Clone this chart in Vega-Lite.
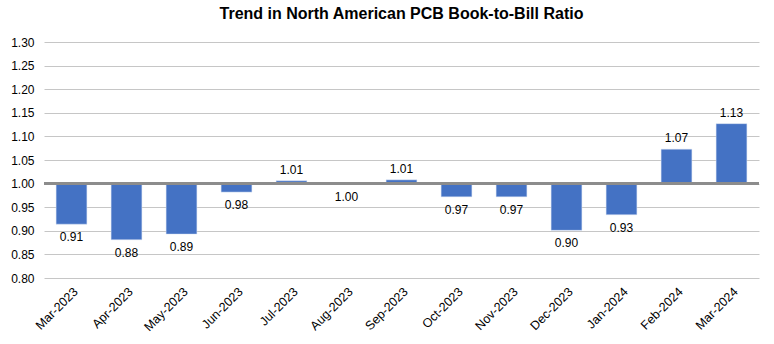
{
  "$schema": "https://vega.github.io/schema/vega-lite/v6.json",
  "width": 715,
  "height": 236,
  "autosize": "none",
  "padding": {"left": 44, "top": 42, "right": 15, "bottom": 66},
  "background": "white",
  "title": {
    "text": "Trend in North American PCB Book-to-Bill Ratio",
    "font": "Liberation Sans",
    "fontSize": 16,
    "fontWeight": "bold",
    "color": "black",
    "anchor": "middle",
    "offset": 14
  },
  "config": {
    "view": {"stroke": null},
    "font": "Liberation Sans",
    "axisY": {
      "tickCount": 20,
      "labelOverlap": false,
      "labelFontSize": 12,
      "labelColor": "black",
      "labelFont": "Liberation Sans",
      "ticks": false,
      "domain": false,
      "gridColor": "#c6c6c6",
      "gridWidth": 1,
      "labelPadding": 10
    }
  },
  "data": {
    "values": [
      {"month": "Mar-2023", "ratio": 0.914},
      {"month": "Apr-2023", "ratio": 0.881},
      {"month": "May-2023", "ratio": 0.893},
      {"month": "Jun-2023", "ratio": 0.982},
      {"month": "Jul-2023", "ratio": 1.006},
      {"month": "Aug-2023", "ratio": 1.0},
      {"month": "Sep-2023", "ratio": 1.008},
      {"month": "Oct-2023", "ratio": 0.972},
      {"month": "Nov-2023", "ratio": 0.972},
      {"month": "Dec-2023", "ratio": 0.901},
      {"month": "Jan-2024", "ratio": 0.934},
      {"month": "Feb-2024", "ratio": 1.073},
      {"month": "Mar-2024", "ratio": 1.127}
    ]
  },
  "encoding": {
    "x": {
      "field": "month",
      "type": "nominal",
      "sort": null,
      "scale": {"paddingInner": 0.44, "paddingOuter": 0.22},
      "axis": {
        "title": null,
        "labelAngle": -45,
        "labelFontSize": 12.5,
        "labelColor": "black",
        "labelFont": "Liberation Sans",
        "ticks": false,
        "domain": false,
        "labelPadding": 7
      }
    }
  },
  "layer": [
    {
      "mark": {"type": "bar", "color": "#4472C4", "stroke": "#d9e2f3", "strokeWidth": 0.5},
      "encoding": {
        "y": {
          "field": "ratio",
          "type": "quantitative",
          "scale": {"domain": [0.8, 1.3], "zero": false, "nice": false},
          "axis": {"title": null, "values": [0.8, 0.85, 0.9, 0.95, 1.0, 1.05, 1.1, 1.15, 1.2, 1.25, 1.3], "tickCount": 20, "format": ".2f", "labelOverlap": false}
        },
        "y2": {"datum": 1.0}
      }
    },
    {
      "mark": {"type": "rule", "color": "#8c8c8c", "strokeWidth": 2.5},
      "encoding": {
        "y": {"datum": 1.0, "type": "quantitative", "axis": {"title": null, "values": [0.8, 0.85, 0.9, 0.95, 1.0, 1.05, 1.1, 1.15, 1.2, 1.25, 1.3], "tickCount": 20, "format": ".2f", "labelOverlap": false}},
        "x": {"value": 0},
        "x2": {"value": 715}
      }
    },
    {
      "transform": [{"filter": "datum.ratio > 1"}],
      "mark": {"type": "text", "baseline": "bottom", "dy": -4, "fontSize": 12, "color": "black", "font": "Liberation Sans"},
      "encoding": {
        "y": {"field": "ratio", "type": "quantitative", "axis": {"title": null, "values": [0.8, 0.85, 0.9, 0.95, 1.0, 1.05, 1.1, 1.15, 1.2, 1.25, 1.3], "tickCount": 20, "format": ".2f", "labelOverlap": false}},
        "text": {"field": "ratio", "type": "quantitative", "format": ".2f"}
      }
    },
    {
      "transform": [{"filter": "datum.ratio <= 1"}],
      "mark": {"type": "text", "baseline": "top", "dy": 8, "fontSize": 12, "color": "black", "font": "Liberation Sans"},
      "encoding": {
        "y": {"field": "ratio", "type": "quantitative", "axis": {"title": null, "values": [0.8, 0.85, 0.9, 0.95, 1.0, 1.05, 1.1, 1.15, 1.2, 1.25, 1.3], "tickCount": 20, "format": ".2f", "labelOverlap": false}},
        "text": {"field": "ratio", "type": "quantitative", "format": ".2f"}
      }
    }
  ]
}
